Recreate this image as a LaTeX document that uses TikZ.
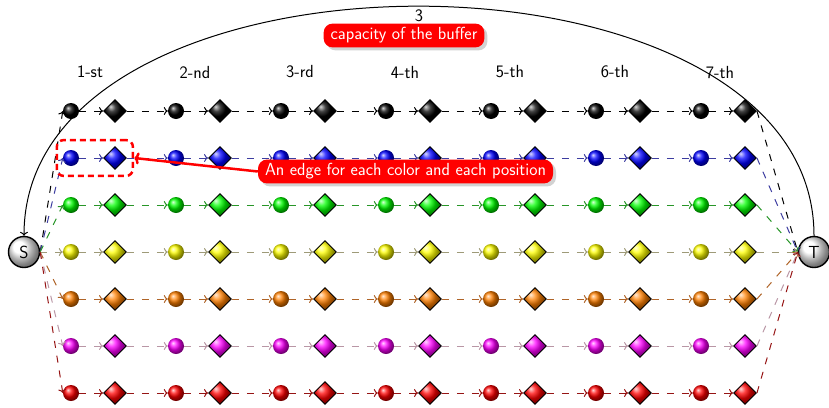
\documentclass[tikz,border=0pt]{standalone}
\usetikzlibrary{shapes.geometric,arrows.meta,shadows,fit}
\definecolor{lblue}{RGB}{60,60,160}
\definecolor{lgreen}{RGB}{40,150,40}
\definecolor{lyellow}{RGB}{158,154,120}
\definecolor{lorange}{RGB}{175,100,40}
\definecolor{lmag}{RGB}{185,150,165}
\definecolor{lred}{RGB}{150,20,20}
\tikzset{
  ballnode/.style={circle, inner sep=0pt, minimum size=16pt},
  dia/.style={diamond, aspect=1, draw=black, line width=0.9pt, inner sep=0pt, minimum size=23pt},
  conn/.style={line width=1pt, dash pattern=on 7pt off 8pt, -{To[length=4pt,width=8pt]}},
  term/.style={circle, draw=black, line width=1.4pt, ball color=white, minimum size=31pt, inner sep=0pt},
  redbox/.style={fill=red, text=white, rounded corners=9pt, inner xsep=7pt, inner ysep=4pt,
    drop shadow={fill=black!35, shadow xshift=3pt, shadow yshift=-3pt}},
  poslabel/.style={inner sep=1pt}
}
\begin{document}
\begin{tikzpicture}[x=1pt, y=-1pt, font={\fontsize{17.5}{20}\selectfont\sffamily}]
\useasboundingbox (0,0) rectangle (829,407);
\node[term] (S) at (24,252) {S};
\node[term] (T) at (814,252) {T};
\foreach \lab [count=\k from 0] in {1-st,2-nd,3-rd,4-th,5-th,6-th,7-th}
  \node[poslabel] (L\k) at ({90+105*\k},72) {\lab};
\foreach \c/\lc [count=\i from 0] in {black/black, blue/lblue, green/lgreen, yellow/lyellow, orange/lorange, magenta/lmag, red/lred} {
  \pgfmathsetmacro\yy{111+47*\i}
  \foreach \j in {0,...,6} {
    \node[ballnode, ball color=\c] (b\i-\j) at ({71+105*\j},\yy) {};
    \node[dia, ball color=\c] (d\i-\j) at ({115+105*\j},\yy) {};
  }
  \foreach \j in {0,...,6} {
    \draw[conn, draw=\lc] (b\i-\j) -- (d\i-\j);
  }
  \foreach \j in {0,...,5} {
    \pgfmathtruncatemacro\jj{\j+1}
    \draw[conn, draw=\lc] (d\i-\j) -- (b\i-\jj);
  }
  \draw[conn, draw=\lc] (S.east) -- (b\i-0.west);
  \draw[conn, draw=\lc] (d\i-6.east) -- (T.west);
}
\draw[line width=1pt, -{To[length=4pt,width=8pt]}] (T.north) .. controls +(0,-306) and +(0,-306) .. node[pos=0.5, anchor=north, inner sep=3pt] (three) {3} (S.north);
\node[redbox] (cap) at (404,35.5) {capacity of the buffer};
\node[fit=(b1-0)(d1-0), draw=red, line width=2.5pt, dash pattern=on 6pt off 4pt, rounded corners=7pt, inner sep=6pt] (hl) {};
\node[redbox] (note) at (405.5,171.5) {An edge for each color and each position};
\draw[red, line width=2.5pt, -{To[length=5pt,width=12pt]}] (note.west) -- (hl.east);
\end{tikzpicture}
\end{document}
